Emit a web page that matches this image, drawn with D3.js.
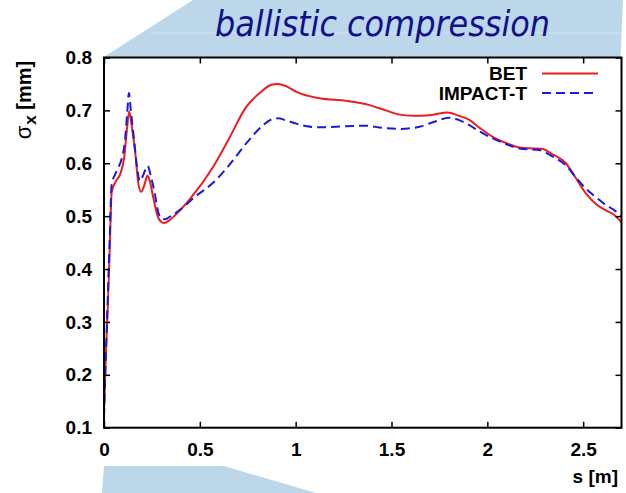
<!DOCTYPE html>
<html>
<head>
<meta charset="utf-8">
<script src="https://cdn.jsdelivr.net/npm/d3@7"></script>
<style>
  body { margin: 0; background: #fff; }
  svg { display: block; }
  .tick text { font-family: "Liberation Sans", Arial, sans-serif; font-weight: bold; font-size: 19px; fill: #000; }
</style>
</head>
<body>
<svg id="chart"></svg>
<script>
// s [m] and sigma_x [mm]
const s_bet = [0, 0.01, 0.02, 0.03, 0.04, 0.06, 0.085, 0.105, 0.12, 0.132, 0.145, 0.163, 0.18, 0.194, 0.21, 0.227, 0.24, 0.257, 0.283, 0.3, 0.314, 0.34, 0.372, 0.45, 0.569, 0.65, 0.743, 0.813, 0.87, 0.908, 0.96, 1.004, 1.125, 1.264, 1.385, 1.47, 1.542, 1.611, 1.7, 1.793, 1.85, 1.906, 1.96, 2.028, 2.1, 2.167, 2.24, 2.288, 2.34, 2.41, 2.46, 2.514, 2.57, 2.618, 2.66, 2.7];
const sigma_bet = [0.13, 0.24, 0.33, 0.44, 0.545, 0.565, 0.58, 0.61, 0.665, 0.698, 0.67, 0.62, 0.56, 0.546, 0.558, 0.577, 0.565, 0.535, 0.497, 0.489, 0.487, 0.492, 0.502, 0.533, 0.593, 0.645, 0.707, 0.733, 0.748, 0.75, 0.744, 0.735, 0.723, 0.718, 0.71, 0.7, 0.692, 0.69, 0.691, 0.696, 0.69, 0.682, 0.667, 0.65, 0.638, 0.63, 0.628, 0.627, 0.617, 0.6, 0.573, 0.543, 0.522, 0.511, 0.503, 0.488];

const s_impact = [0, 0.01, 0.02, 0.03, 0.04, 0.057, 0.075, 0.092, 0.11, 0.122, 0.13, 0.14, 0.158, 0.175, 0.188, 0.205, 0.227, 0.245, 0.262, 0.285, 0.3, 0.32, 0.335, 0.4, 0.48, 0.569, 0.65, 0.743, 0.83, 0.875, 0.908, 0.95, 1.004, 1.06, 1.125, 1.264, 1.368, 1.45, 1.542, 1.646, 1.72, 1.802, 1.85, 1.906, 1.96, 2.028, 2.1, 2.167, 2.271, 2.34, 2.41, 2.46, 2.514, 2.57, 2.618, 2.66, 2.7];
const sigma_impact = [0.12, 0.24, 0.35, 0.46, 0.56, 0.578, 0.592, 0.608, 0.645, 0.7, 0.733, 0.7, 0.64, 0.585, 0.566, 0.578, 0.595, 0.575, 0.548, 0.505, 0.495, 0.494, 0.497, 0.513, 0.538, 0.563, 0.595, 0.638, 0.672, 0.683, 0.685, 0.681, 0.675, 0.67, 0.668, 0.67, 0.671, 0.667, 0.665, 0.669, 0.678, 0.686, 0.682, 0.672, 0.66, 0.647, 0.636, 0.628, 0.625, 0.613, 0.596, 0.574, 0.552, 0.535, 0.521, 0.512, 0.5];

const x_ticks = [0, 0.5, 1, 1.5, 2, 2.5];
const y_ticks = [0.1, 0.2, 0.3, 0.4, 0.5, 0.6, 0.7, 0.8];

const series = [
    {name: 'BET', s: s_bet, v: sigma_bet, color: '#ec1c24', dash: null},
    {name: 'IMPACT-T', s: s_impact, v: sigma_impact, color: '#1a1ad8', dash: '9,5'}
];

const width = 626, height = 493;
const margin = {top: 57.5, right: 4.5, bottom: 65.3, left: 104};
const inner_width = width - margin.left - margin.right;
const inner_height = height - margin.top - margin.bottom;

const svg = d3.select('#chart')
    .attr('width', width)
    .attr('height', height);

// light blue decorations
const band = '#bcd6ea';
svg.append('polygon')
    .attr('points', '103,57.5 193,0 623,0 620.5,57.5')
    .attr('fill', band);
svg.append('line')
    .attr('x1', 150).attr('x2', 622).attr('y1', 33).attr('y2', 33)
    .attr('stroke', '#fff').attr('stroke-opacity', 0.35).attr('stroke-width', 1);
svg.append('polygon')
    .attr('points', '104,466 224,466 316,493 102,493')
    .attr('fill', band);

svg.append('text')
    .attr('x', 215)
    .attr('y', 36)
    .attr('textLength', 335)
    .attr('lengthAdjust', 'spacingAndGlyphs')
    .style('font-family', '"DejaVu Sans Condensed", "DejaVu Sans", sans-serif')
    .style('font-stretch', 'condensed')
    .style('font-style', 'italic')
    .style('font-size', '36px')
    .attr('fill', '#10108c')
    .text('ballistic compression');

const chart = svg.append('g')
    .attr('transform', `translate(${margin.left}, ${margin.top})`);

chart.append('rect')
    .attr('width', inner_width)
    .attr('height', inner_height)
    .attr('fill', '#fff');

const xscale = d3.scaleLinear().domain([0, 2.7]).range([0, inner_width]);
const yscale = d3.scaleLinear().domain([0.1, 0.8]).range([inner_height, 0]);

chart.append('clipPath').attr('id', 'clip')
    .append('rect').attr('width', inner_width).attr('height', inner_height);

const line = d3.line()
    .x(d => xscale(d[0]))
    .y(d => yscale(d[1]))
    .curve(d3.curveMonotoneX);

series.forEach(sr => {
    chart.append('path')
        .attr('clip-path', 'url(#clip)')
        .attr('d', line(sr.s.map((s, i) => [s, sr.v[i]])))
        .attr('fill', 'none')
        .attr('stroke', sr.color)
        .attr('stroke-width', 2)
        .attr('stroke-dasharray', sr.dash);
});

// axes with inward ticks on all four sides
const tick_len = 6;
chart.append('g')
    .attr('transform', `translate(0, ${inner_height})`)
    .call(d3.axisBottom(xscale).tickValues(x_ticks).tickFormat(d3.format('')).tickSizeInner(-tick_len).tickSizeOuter(0).tickPadding(15));
chart.append('g')
    .call(d3.axisTop(xscale).tickValues(x_ticks).tickFormat('').tickSizeInner(-tick_len).tickSizeOuter(0));
chart.append('g')
    .call(d3.axisLeft(yscale).tickValues(y_ticks).tickFormat(d3.format('.1f')).tickSizeInner(-tick_len).tickSizeOuter(0).tickPadding(12));
chart.append('g')
    .attr('transform', `translate(${inner_width}, 0)`)
    .call(d3.axisRight(yscale).tickValues(y_ticks).tickFormat('').tickSizeInner(-tick_len).tickSizeOuter(0));

chart.selectAll('.domain').remove();
chart.selectAll('.tick line').attr('stroke', '#000').attr('stroke-width', 1.5);

chart.append('rect')
    .attr('width', inner_width)
    .attr('height', inner_height)
    .attr('fill', 'none')
    .attr('stroke', '#000')
    .attr('stroke-width', 2);

// legend
const legend = chart.append('g');
series.forEach((sr, i) => {
    const ly = 16 + i * 19.5;
    legend.append('text')
        .attr('x', 423)
        .attr('y', ly)
        .attr('dy', '0.35em')
        .attr('text-anchor', 'end')
        .style('font-family', '"Liberation Sans", Arial, sans-serif')
        .style('font-weight', 'bold')
        .style('font-size', '19px')
        .text(sr.name);
    legend.append('line')
        .attr('x1', 438).attr('x2', 494)
        .attr('y1', ly).attr('y2', ly)
        .attr('stroke', sr.color)
        .attr('stroke-width', 2)
        .attr('stroke-dasharray', sr.dash);
});

// axis labels
svg.append('text')
    .attr('x', 618)
    .attr('y', 483)
    .attr('text-anchor', 'end')
    .style('font-family', '"Liberation Sans", Arial, sans-serif')
    .style('font-weight', 'bold')
    .style('font-size', '19px')
    .text('s [m]');

const ylabel = svg.append('text')
    .attr('transform', 'translate(31, 100) rotate(-90)')
    .attr('text-anchor', 'middle')
    .style('font-family', '"Liberation Sans", Arial, sans-serif')
    .style('font-weight', 'bold')
    .style('font-size', '20px');
ylabel.append('tspan').style('font-weight', 'normal').style('font-size', '22px').text('σ');
ylabel.append('tspan').attr('dy', 5).attr('dx', 1).style('font-size', '17px').text('x');
ylabel.append('tspan').attr('dy', -5).text('  [mm]');
</script>
</body>
</html>
